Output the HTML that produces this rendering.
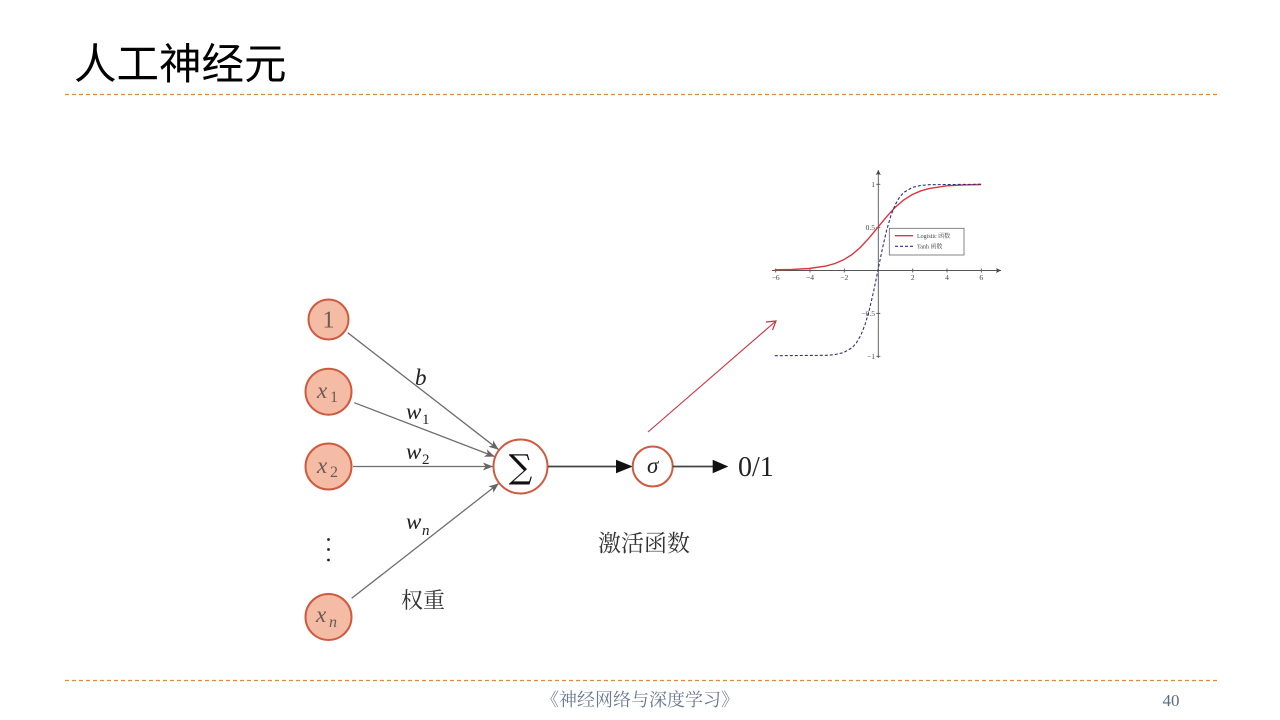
<!DOCTYPE html>
<html><head><meta charset="utf-8">
<style>
html,body{margin:0;padding:0;background:#fff;}
body{width:1280px;height:720px;overflow:hidden;position:relative;}
</style></head>
<body>
<svg width="1280" height="720" viewBox="0 0 1280 720" xmlns="http://www.w3.org/2000/svg" style="position:absolute;left:0;top:0">
<defs>
<marker id="ga" markerUnits="userSpaceOnUse" markerWidth="12" markerHeight="10" refX="10" refY="4" orient="auto">
<path d="M0,0 L10,4 L0,8 L2.5,4 Z" fill="#666"/>
</marker>
<marker id="ax" markerUnits="userSpaceOnUse" markerWidth="8" markerHeight="6" refX="5" refY="2.5" orient="auto">
<path d="M0,0 L5,2.5 L0,5 L1,2.5 Z" fill="#444"/>
</marker>
</defs>

<!-- title -->
<text x="74" y="79" font-family="'Liberation Sans','Noto Sans CJK SC',sans-serif" font-size="42.5" fill="#000">人工神经元</text>
<line x1="65" y1="94.5" x2="1217" y2="94.5" stroke="#d98a40" stroke-width="1.2" stroke-dasharray="4,3"/>
<line x1="65" y1="680.5" x2="1217" y2="680.5" stroke="#d98a40" stroke-width="1.2" stroke-dasharray="4,3"/>

<!-- footer -->
<text x="640" y="706" text-anchor="middle" font-family="'Liberation Serif','Noto Serif CJK SC',serif" font-size="18" fill="#6a7892">《神经网络与深度学习》</text>
<text x="1171" y="706" text-anchor="middle" font-family="'Liberation Serif',serif" font-size="17" fill="#5a6a85">40</text>

<!-- gray connectors -->
<g stroke="#6e6e6e" stroke-width="1.3" fill="none">
<line x1="347.7" y1="332.7" x2="498.7" y2="449.7" marker-end="url(#ga)"/>
<line x1="354.3" y1="402.7" x2="494.8" y2="456.6" marker-end="url(#ga)"/>
<line x1="353" y1="466.5" x2="493" y2="466.5" marker-end="url(#ga)"/>
<line x1="351.7" y1="598.3" x2="498.8" y2="483.4" marker-end="url(#ga)"/>
</g>

<!-- input nodes -->
<g fill="#f4bca4" stroke="#cf5a40" stroke-width="2">
<circle cx="328.5" cy="319.5" r="20"/>
<circle cx="328.5" cy="391.7" r="23"/>
<circle cx="328.5" cy="466.5" r="23"/>
<circle cx="328.5" cy="617" r="23"/>
</g>
<g font-family="'Liberation Serif',serif" fill="#6b5a55">
<text x="328.5" y="327.5" font-size="24" text-anchor="middle">1</text>
<text x="317" y="398" font-size="23" font-style="italic">x</text><text x="330" y="402" font-size="16">1</text>
<text x="317" y="473" font-size="23" font-style="italic">x</text><text x="330" y="477" font-size="16">2</text>
<text x="316" y="622" font-size="23" font-style="italic">x</text><text x="329" y="627" font-size="16" font-style="italic">n</text>
</g>

<!-- dots -->
<g fill="#222">
<circle cx="328.5" cy="539.5" r="1.4"/>
<circle cx="328.5" cy="549.5" r="1.4"/>
<circle cx="328.5" cy="560" r="1.4"/>
</g>

<!-- weight labels -->
<g font-family="'Liberation Serif',serif" fill="#222">
<text x="415" y="385" font-size="23" font-style="italic">b</text>
<text x="406" y="419" font-size="23" font-style="italic">w</text><text x="422" y="424" font-size="15">1</text>
<text x="406" y="459" font-size="23" font-style="italic">w</text><text x="422" y="464" font-size="15">2</text>
<text x="406" y="529" font-size="23" font-style="italic">w</text><text x="422" y="535" font-size="15" font-style="italic">n</text>
</g>

<!-- sum node -->
<circle cx="520.5" cy="466.5" r="27" fill="#fff" stroke="#cf5a40" stroke-width="2"/>
<text x="520.5" y="478" text-anchor="middle" font-family="'DejaVu Serif','Liberation Serif',serif" font-size="33" fill="#111">∑</text>

<!-- black arrows -->
<line x1="548" y1="466.5" x2="618" y2="466.5" stroke="#444" stroke-width="1.8"/>
<path d="M616,459.8 L632.7,466.5 L616,473.2 Z" fill="#111"/>
<circle cx="652.7" cy="466.5" r="20" fill="#fff" stroke="#cf5a40" stroke-width="2"/>
<text x="652.7" y="473" text-anchor="middle" font-family="'Liberation Serif',serif" font-size="23" font-style="italic" fill="#222">σ</text>
<line x1="672.7" y1="466.5" x2="714" y2="466.5" stroke="#444" stroke-width="1.8"/>
<path d="M712.7,459.8 L728.3,466.5 L712.7,473.2 Z" fill="#111"/>
<text x="738" y="476" font-family="'Liberation Serif',serif" font-size="28" fill="#222">0/1</text>

<!-- chinese labels -->
<text x="401" y="608" font-family="'Liberation Serif','Noto Serif CJK SC',serif" font-size="22" fill="#333">权重</text>
<text x="598" y="551" font-family="'Liberation Serif','Noto Serif CJK SC',serif" font-size="23" fill="#333">激活函数</text>

<!-- red arrow -->
<line x1="648" y1="432" x2="776" y2="321" stroke="#cc3344" stroke-width="1.1"/>
<polyline points="766,322 776,321 772.5,330" fill="none" stroke="#cc3344" stroke-width="1.2"/>

<!-- chart -->
<g stroke="#555" stroke-width="0.9" fill="none">
<line x1="772" y1="270.5" x2="1001" y2="270.5" marker-end="url(#ax)"/>
<line x1="878.3" y1="358" x2="878.3" y2="170" marker-end="url(#ax)"/>
<line x1="775.7" y1="268.5" x2="775.7" y2="272.5"/>
<line x1="810" y1="268.5" x2="810" y2="272.5"/>
<line x1="844.3" y1="268.5" x2="844.3" y2="272.5"/>
<line x1="912.7" y1="268.5" x2="912.7" y2="272.5"/>
<line x1="947" y1="268.5" x2="947" y2="272.5"/>
<line x1="981.3" y1="268.5" x2="981.3" y2="272.5"/>
<line x1="876.3" y1="184.3" x2="880.3" y2="184.3"/>
<line x1="876.3" y1="227.4" x2="880.3" y2="227.4"/>
<line x1="876.3" y1="313.4" x2="880.3" y2="313.4"/>
<line x1="876.3" y1="356.3" x2="880.3" y2="356.3"/>
</g>
<g font-family="'Liberation Serif',serif" font-size="7.5" fill="#444" text-anchor="middle">
<text x="775.7" y="280">−6</text>
<text x="810" y="280">−4</text>
<text x="844.3" y="280">−2</text>
<text x="912.7" y="280">2</text>
<text x="947" y="280">4</text>
<text x="981.3" y="280">6</text>
</g>
<g font-family="'Liberation Serif',serif" font-size="7.5" fill="#444" text-anchor="end">
<text x="875" y="187">1</text>
<text x="875" y="230">0.5</text>
<text x="875" y="316">−0.5</text>
<text x="875" y="359">−1</text>
</g>
<polyline fill="none" stroke="#d9363e" stroke-width="1.4" points="774.8,269.8 792,269.4 809.2,268.5 826.4,265.9 835,263.5 843.6,259.8 852.2,254.4 860.8,247 869.4,237.6 878,227.2 886.6,216.7 895.2,207.3 903.8,199.9 912.4,194.5 921,190.8 929.6,188.4 946.8,185.8 964,184.9 981.2,184.5"/>
<polyline fill="none" stroke="#2b3080" stroke-width="1.1" stroke-dasharray="3,2" points="774.8,355.7 826.4,355.3 835,354.6 843.6,352.6 852.2,347.6 856.5,342.7 860.8,335.3 865.1,324.4 869.4,309.6 873.7,291 878,270 882.3,249 886.6,230.4 890.9,215.6 895.2,204.7 899.5,197.3 903.8,192.4 912.4,187.4 921,185.4 929.6,184.7 981.2,184.3"/>
<rect x="889.3" y="228.3" width="74.7" height="26.7" fill="#fff" stroke="#666" stroke-width="0.8"/>
<line x1="895" y1="235.7" x2="913" y2="235.7" stroke="#d9363e" stroke-width="1.4"/>
<line x1="895" y1="246.3" x2="913" y2="246.3" stroke="#2b3080" stroke-width="1.1" stroke-dasharray="3,2"/>
<g font-family="'Liberation Serif','Noto Serif CJK SC',serif" font-size="6" fill="#444">
<text x="917" y="238">Logistic 函数</text>
<text x="917" y="248.5">Tanh 函数</text>
</g>
</svg>
</body></html>
